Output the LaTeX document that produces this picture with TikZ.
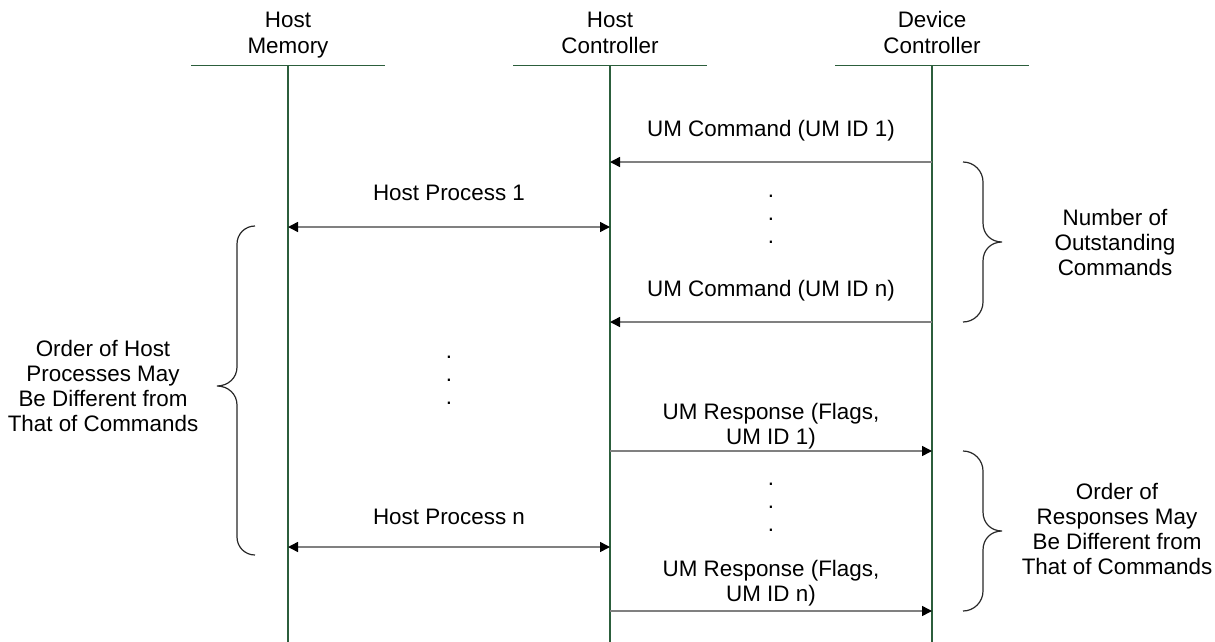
\documentclass[tikz,border=0pt]{standalone}
\usepackage{fontspec}
\setmainfont{Liberation Sans}
\usetikzlibrary{arrows.meta}
\definecolor{lifeline}{RGB}{44,94,60}
\definecolor{msgline}{RGB}{128,128,128}
\definecolor{bracecol}{RGB}{40,40,40}
\newcommand\diagfont{\fontsize{22.4}{25}\selectfont}
\begin{document}
\begin{tikzpicture}[x=1pt,y=-1pt,
  lbl/.style={font=\diagfont, inner sep=0pt, align=center},
  dotmark/.style={font=\diagfont, inner sep=0pt, anchor=base},
  life/.style={draw=lifeline, line width=1.2pt},
  head/.style={Triangle[length=10pt,width=10pt,color=black]},
  msg/.style={draw=msgline, line width=1.5pt, -{Triangle[length=10pt,width=10pt,color=black]}},
  dmsg/.style={draw=msgline, line width=1.5pt, {Triangle[length=10pt,width=10pt,color=black]}-{Triangle[length=10pt,width=10pt,color=black]}},
  bracepath/.style={draw=bracecol, line width=1.2pt}
]
\useasboundingbox (0,0) rectangle (1215,642);

% participants
\node[lbl] (hm) at (288,35.5) {\strut Host\\\strut Memory};
\node[lbl] (hc) at (610,35.5) {\strut Host\\\strut Controller};
\node[lbl] (dc) at (932,35.5) {\strut Device\\\strut Controller};

% header rules and lifelines
\foreach \x in {288,610,932}{
  \draw[life] (\x-97,65.5) -- (\x+97,65.5);
  \draw[life] (\x,65.5) -- (\x,642);
}

% message end points on the lifelines
\coordinate (dcA) at (932,162);  \coordinate (hcA) at (610,162);
\coordinate (hmB) at (288,227);  \coordinate (hcB) at (610,227);
\coordinate (dcC) at (932,322);  \coordinate (hcC) at (610,322);
\coordinate (hcD) at (610,451);  \coordinate (dcD) at (932,451);
\coordinate (hmE) at (288,547);  \coordinate (hcE) at (610,547);
\coordinate (hcF) at (610,611);  \coordinate (dcF) at (932,611);

% messages
\draw[msg]  (dcA) -- (hcA);
\draw[dmsg] (hmB) -- (hcB);
\draw[msg]  (dcC) -- (hcC);
\draw[msg]  (hcD) -- (dcD);
\draw[dmsg] (hmE) -- (hcE);
\draw[msg]  (hcF) -- (dcF);

% message labels
\node[lbl] (l1) at (771,131) {\strut UM Command (UM ID 1)};
\node[lbl] (l2) at (449,195) {\strut Host Process 1};
\node[lbl] (l3) at (771,291) {\strut UM Command (UM ID n)};
\node[lbl] (l4) at (771,427) {\strut UM Response (Flags,\\\strut UM ID 1)};
\node[lbl] (l5) at (449,519) {\strut Host Process n};
\node[lbl] (l6) at (771,584) {\strut UM Response (Flags,\\\strut UM ID n)};

% ellipsis dots
\node[dotmark] (d1) at (771,197.5) {.};
\node[dotmark] (d2) at (771,220.5) {.};
\node[dotmark] (d3) at (771,243.5) {.};
\node[dotmark] (d4) at (449,358) {.};
\node[dotmark] (d5) at (449,381) {.};
\node[dotmark] (d6) at (449,404.5) {.};
\node[dotmark] (d7) at (771,485.5) {.};
\node[dotmark] (d8) at (771,508.5) {.};
\node[dotmark] (d9) at (771,531.5) {.};

% braces
\draw[bracepath] (963,162) .. controls (974,162) and (983,171) .. (983,182)
  -- (983,223) .. controls (983,234) and (991,242) .. (1002,242)
  .. controls (991,242) and (983,250) .. (983,261)
  -- (983,302) .. controls (983,313) and (974,322) .. (963,322);
\draw[bracepath] (963,451) .. controls (974,451) and (983,460) .. (983,471)
  -- (983,512) .. controls (983,523) and (991,531) .. (1002,531)
  .. controls (991,531) and (983,539) .. (983,550)
  -- (983,591) .. controls (983,602) and (974,611) .. (963,611);
\draw[bracepath] (255,226) .. controls (245,226) and (237,234) .. (237,244)
  -- (237,367) .. controls (237,378) and (228,386) .. (217,386)
  .. controls (228,386) and (237,394) .. (237,405)
  -- (237,537) .. controls (237,547) and (245,555) .. (255,555);

% brace annotations
\node[lbl] (n1) at (1115,245) {\strut Number of\\\strut Outstanding\\\strut Commands};
\node[lbl] (n2) at (103,388.5) {\strut Order of Host\\\strut Processes May\\\strut Be Different from\\\strut That of Commands};
\node[lbl] (n3) at (1117,532) {\strut Order of\\\strut Responses May\\\strut Be Different from\\\strut That of Commands};
\end{tikzpicture}
\end{document}
